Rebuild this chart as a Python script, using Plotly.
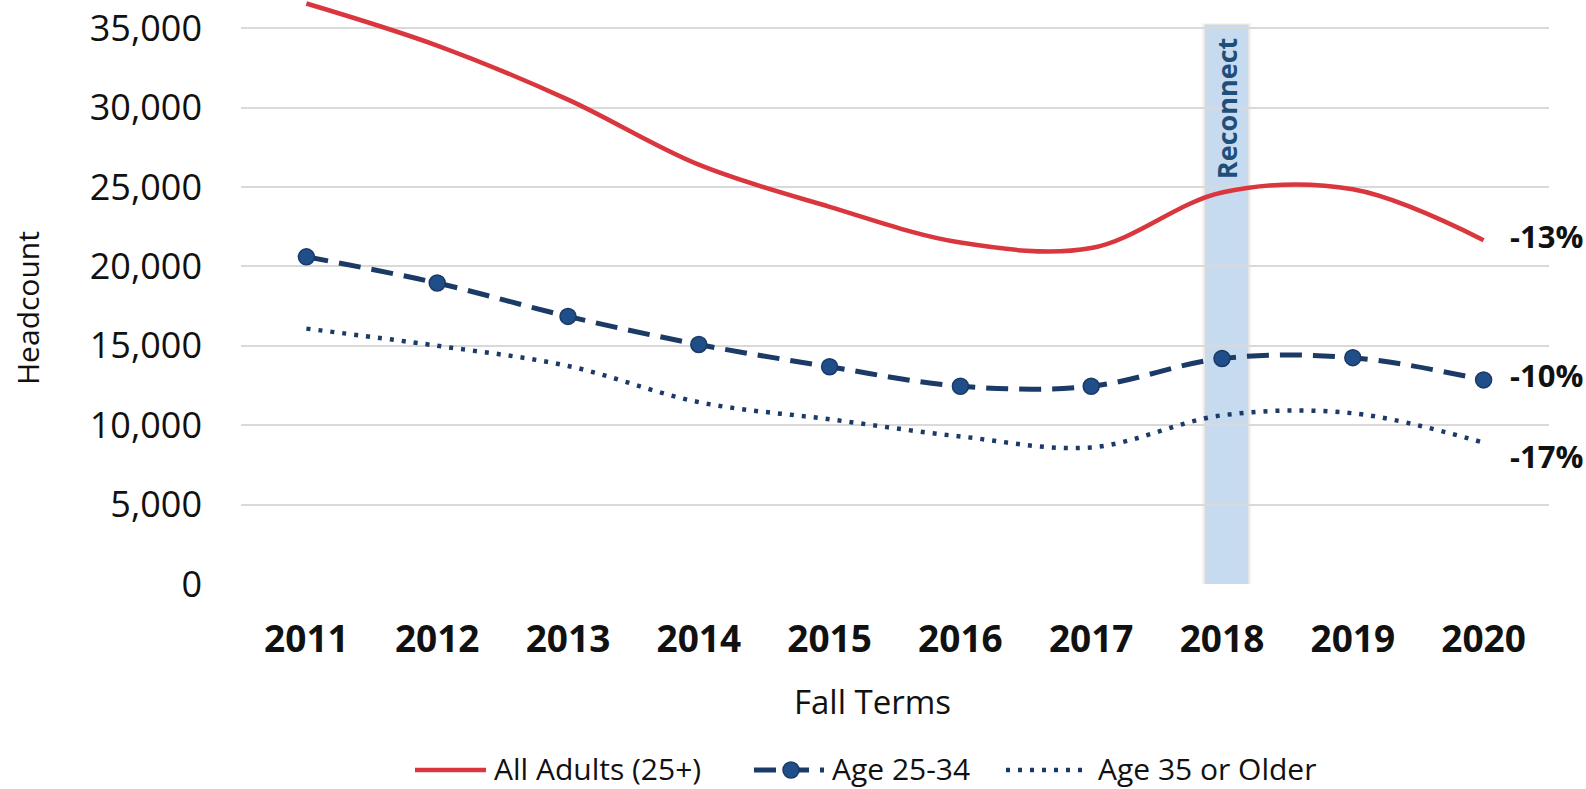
import plotly.graph_objects as go

years = ["2011", "2012", "2013", "2014", "2015", "2016", "2017", "2018", "2019", "2020"]
all_adults = [36550, 33900, 30500, 26400, 23750, 21500, 21150, 24650, 24850, 21650]
age_25_34 = [20600, 18950, 16850, 15080, 13680, 12450, 12450, 14200, 14250, 12850]
age_35_plus = [16080, 15000, 13730, 11450, 10370, 9290, 8600, 10620, 10750, 8900]
series_names = ["All Adults (25+)", "Age 25-34", "Age 35 or Older"]
pct_labels = ["-13%", "-10%", "-17%"]
y_ticks = [0, 5000, 10000, 15000, 20000, 25000, 30000, 35000]

font = "Open Sans"
red = "#D9363E"
navy = "#1B3A66"
marker_fill = "#1F4E89"

W, H = 1586, 789
ML, MR, MT, MB = 241, 37, 0, 205
PW, PH = W - ML - MR, H - MT - MB


def px(xp):
    return (xp - ML) / PW


def py(yp):
    return (PH - (yp - MT)) / PH


fig = go.Figure()

# Reconnect band with soft shadow
for d, op in [(0.035, 0.035), (0.022, 0.05), (0.011, 0.07)]:
    fig.add_shape(type="rect", xref="x", yref="y", x0=6.88 - d, x1=7.19 + d,
                  y0=-150 - d * 2000, y1=35150 + d * 5000, line_width=0,
                  fillcolor=f"rgba(0,0,0,{op})", layer="below")
fig.add_shape(type="rect", xref="x", yref="y", x0=6.88, x1=7.19, y0=-150, y1=35150,
              line_width=0, fillcolor="#C7DBF0", layer="below")

line_styles = [
    dict(color=red, width=4.5, shape="spline", smoothing=1),
    dict(color=navy, width=5, dash="22px,11px", shape="spline", smoothing=1),
    dict(color=navy, width=4.5, dash="4px,8px", shape="spline", smoothing=1),
]

fig.add_trace(go.Scatter(x=years, y=all_adults, mode="lines", name=series_names[0],
                         line=line_styles[0]))
fig.add_trace(go.Scatter(x=years, y=age_25_34, mode="lines+markers", name=series_names[1],
                         line=line_styles[1],
                         marker=dict(size=16, color=marker_fill, line=dict(color=navy, width=1.5))))
fig.add_trace(go.Scatter(x=years, y=age_35_plus, mode="lines", name=series_names[2],
                         line=line_styles[2]))

fig.add_annotation(x=7.035, y=34500, xref="x", yref="y", text="<b>Reconnect</b>", textangle=-90,
                   showarrow=False, yanchor="top", font=dict(family=font, size=27, color="#1F4E79"))

label_shifts = [(all_adults[-1], 4), (age_25_34[-1], 5), (age_35_plus[-1], -13)]
for lab, (yv, ys) in zip(pct_labels, label_shifts):
    fig.add_annotation(x=9, y=yv, xref="x", yref="y", text=f"<b>{lab}</b>", showarrow=False,
                       xanchor="left", xshift=24, yshift=ys,
                       font=dict(family=font, size=31, color="#111111"))

fig.add_annotation(x=px(27), y=py(308), xref="paper", yref="paper", text="Headcount",
                   textangle=-90, showarrow=False, xanchor="center", yanchor="middle",
                   font=dict(family=font, size=30, color="#111111"))
fig.add_annotation(x=px(872), y=py(701), xref="paper", yref="paper",
                   text="Fall Terms", showarrow=False, yanchor="middle", xanchor="center",
                   font=dict(family=font, size=33, color="#111111"))

# Legend drawn below the chart (long line samples as in the original)
leg_y = 768
leg_items = [(415, 486, 493), (754, 824, 831), (1006, 1087, 1097)]
for i, (x0, x1, xt) in enumerate(leg_items):
    st = line_styles[i]
    fig.add_shape(type="line", xref="paper", yref="paper", x0=px(x0), x1=px(x1),
                  y0=py(leg_y + 2), y1=py(leg_y + 2),
                  line=dict(color=st["color"], width=st["width"], dash=st.get("dash", "solid")))
    fig.add_annotation(x=px(xt), y=py(leg_y), xref="paper", yref="paper", text=series_names[i],
                       showarrow=False, xanchor="left", yanchor="middle", borderpad=0,
                       font=dict(family=font, size=30, color="#111111"))
fig.add_shape(type="circle", xref="paper", yref="paper", xsizemode="pixel", ysizemode="pixel",
              xanchor=px(791), yanchor=py(leg_y + 2), x0=-8, x1=8, y0=-8, y1=8,
              fillcolor=marker_fill, line=dict(color=navy, width=1.5))

fig.update_layout(
    width=W, height=H,
    margin=dict(l=ML, r=MR, t=MT, b=MB, autoexpand=False),
    plot_bgcolor="white", paper_bgcolor="white",
    font=dict(family=font, color="#111111"),
    showlegend=False,
    xaxis=dict(type="category", range=[-0.5, 9.5], showgrid=False, showline=False,
               automargin=False, ticks="",
               tickfont=dict(family=font, size=37, color="#111111"),
               ticklabelstandoff=30, tickprefix="<b>", ticksuffix="</b>"),
    yaxis=dict(range=[0, 36770], tickvals=y_ticks, tickformat=",", showgrid=True,
               automargin=False, gridcolor="#D9D9D9", gridwidth=1.5, zeroline=False,
               showline=False, tickfont=dict(family=font, size=36, color="#111111"),
               ticklabelstandoff=38),
)

fig.write_html("out.html", config={"displayModeBar": False},
               post_script="document.body.style.margin='0px';document.body.style.overflow='hidden';")
